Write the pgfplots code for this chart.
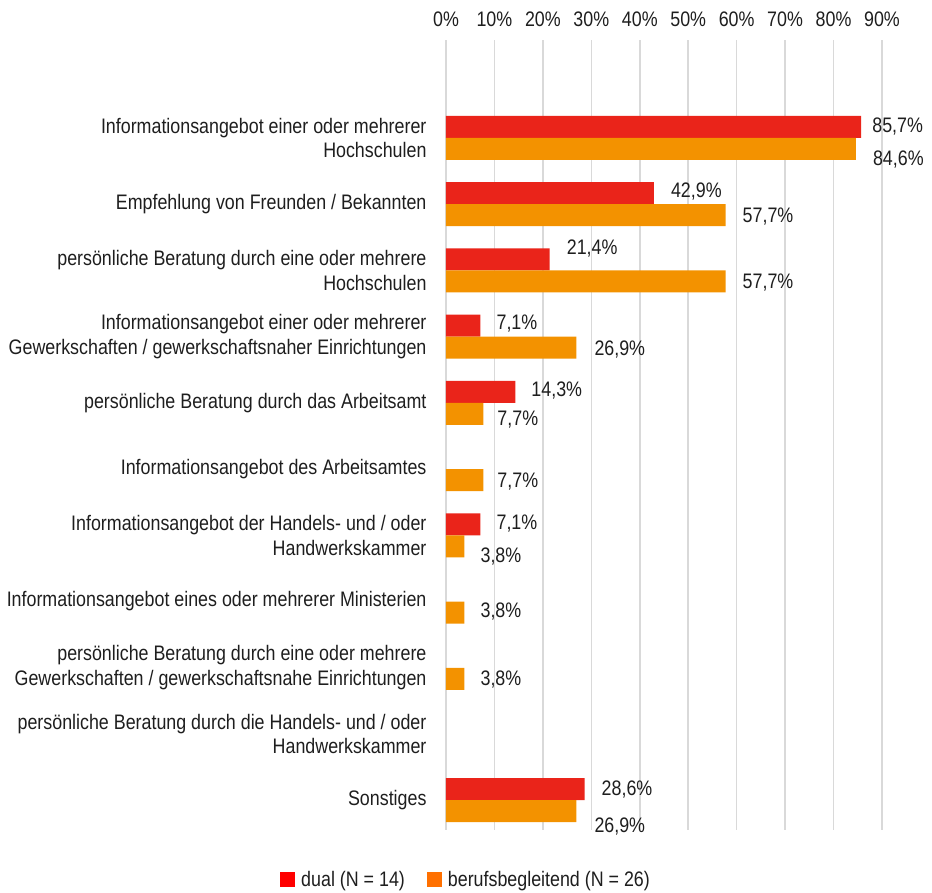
\documentclass[border=0pt]{standalone}
\usepackage{fontspec}
\setmainfont{Liberation Sans}[FakeStretch=0.85]
\usepackage{pgfplots}
\usepackage{pgfplotstable}
\pgfplotsset{compat=1.18}
\definecolor{barred}{RGB}{234,36,26}
\definecolor{barorange}{RGB}{243,146,0}
\definecolor{legred}{RGB}{255,0,0}
\definecolor{legorange}{RGB}{255,112,0}
\definecolor{gridgray}{RGB}{217,217,217}
\definecolor{txt}{RGB}{30,30,30}

\pgfplotstableread{
y x dy dx
10 85.7 0 11
9 42.9 2 17
8 21.4 11 17
7 7.1 2 16
6 14.3 1 16
4 7.1 1 16
0 28.6 0 17
}\dualdata

\pgfplotstableread{
y x dy dx
10 84.6 -11 17
9 57.7 -1 17
8 57.7 -1 17
7 26.9 -2 18
6 7.7 -6 14
5 7.7 -1 14
4 3.8 -10 16
3 3.8 1 16
2 3.8 -1 16
0 26.9 -15 18
}\bbdata

\begin{document}
\begin{tikzpicture}[font=\fontsize{21}{24.5}\selectfont, text=txt]
\begin{axis}[
  scale only axis,
  width=436pt, height=790pt,
  xmin=0, xmax=90,
  ymin=-0.45, ymax=11.48,
  xbar,
  axis line style={draw=none},
  major tick length=0pt,
  xtick={0,10,...,90},
  xticklabel pos=upper,
  xticklabel={\pgfmathprintnumber{\tick}\%},
  /pgf/number format/assume math mode=true,
  xticklabel style={yshift=10pt},
  xmajorgrids,
  grid style={gridgray, line width=1.5pt},
  ytick={0,...,10},
  yticklabels={
    {Sonstiges},
    {persönliche Beratung durch die Handels- und / oder\\Handwerkskammer},
    {persönliche Beratung durch eine oder mehrere\\Gewerkschaften / gewerkschaftsnahe Einrichtungen},
    {Informationsangebot eines oder mehrerer Ministerien},
    {Informationsangebot der Handels- und / oder\\Handwerkskammer},
    {Informationsangebot des Arbeitsamtes},
    {persönliche Beratung durch das Arbeitsamt},
    {Informationsangebot einer oder mehrerer\\Gewerkschaften / gewerkschaftsnaher Einrichtungen},
    {persönliche Beratung durch eine oder mehrere\\Hochschulen},
    {Empfehlung von Freunden / Bekannten},
    {Informationsangebot einer oder mehrerer\\Hochschulen}
  },
  yticklabel style={align=right, xshift=-16pt},
  bar width=22pt,
  point meta=x,
  nodes near coords={\pgfmathprintnumber[fixed,fixed zerofill,precision=1,use comma]{\pgfplotspointmeta}\%},
  visualization depends on={\thisrow{dy} \as \dy},
  visualization depends on={\thisrow{dx} \as \dx},
  every node near coord/.append style={anchor=west, inner sep=0pt, xshift=\dx, yshift=\dy, text=txt},
  legend columns=2,
  legend style={draw=none, at={(0.046,-0.063)}, anchor=center, font=\fontsize{21}{24.5}\selectfont,
    /tikz/every odd column/.append style={column sep=4pt},
    /tikz/every even column/.append style={column sep=20pt}},
]
\addplot[fill=barred, draw=none, bar shift=11pt,
  legend image code/.code={\fill[legred] (0pt,-7.5pt) rectangle (15pt,7.5pt);}]
  table[x=x, y=y] \dualdata;
\addlegendentry{dual (N = 14)}
\addplot[fill=barorange, draw=none, bar shift=-11pt,
  legend image code/.code={\fill[legorange] (0pt,-7.5pt) rectangle (15pt,7.5pt);}]
  table[x=x, y=y] \bbdata;
\addlegendentry{berufsbegleitend (N = 26)}
\end{axis}
\pgfresetboundingbox
\path[use as bounding box] ([shift={(-446pt,40pt)}]current axis.north west) rectangle ++(932pt,-893pt);
\end{tikzpicture}
\end{document}
